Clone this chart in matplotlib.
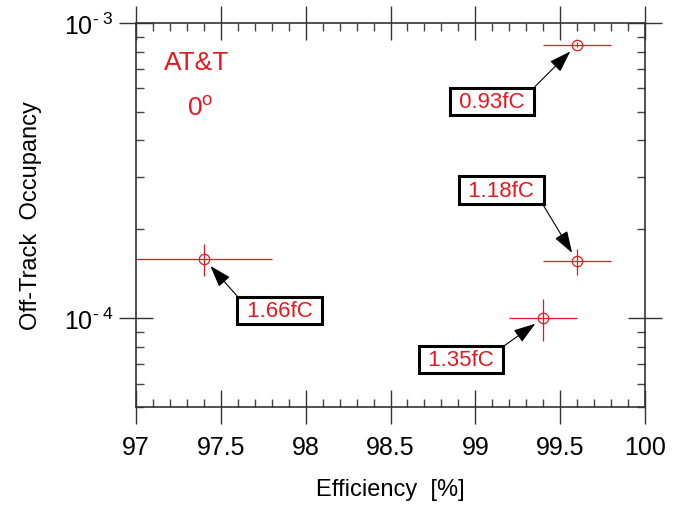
import math
import matplotlib
matplotlib.use("Agg")
import matplotlib.pyplot as plt
import matplotlib.ticker as ticker

plt.rcParams['font.family'] = ['Liberation Sans', 'DejaVu Sans']
plt.rcParams['mathtext.fontset'] = 'custom'
plt.rcParams['mathtext.rm'] = 'Liberation Sans'
plt.rcParams['mathtext.it'] = 'Liberation Sans:italic'

# data
efficiency = [99.6, 99.6, 99.4, 97.4]
eff_err = [0.2, 0.2, 0.2, 0.4]
occupancy = [8.45e-4, 1.56e-4, 1.0e-4, 1.59e-4]
occ_err = [0.15e-4, 0.16e-4, 0.16e-4, 0.20e-4]
thresholds = ['0.93fC', '1.18fC', '1.35fC', '1.66fC']
# label box positions (data coords) and arrow anchor on the box
label_pos = [(99.098, 5.43e-4), (99.154, 2.716e-4), (98.915, 7.25e-5), (97.846, 1.062e-4)]
label_relpos = [(1, 1), (1, 0), (1, 1), (0, 1)]

red = '#e3191f'

fig = plt.figure(figsize=(6.73, 5.10), dpi=100)
ax = fig.add_axes([0.2021, 0.2, 0.7563, 0.7529])

ax.errorbar(efficiency, occupancy, xerr=eff_err, yerr=occ_err, fmt='o',
            mfc='none', mec=red, ms=7.5, mew=0.9, ecolor=red, elinewidth=0.9,
            capsize=0, color=red)

for lab, pos, rp, x, y in zip(thresholds, label_pos, label_relpos, efficiency, occupancy):
    ax.annotate(' ' + lab + ' ', xy=(x, y), xytext=pos, ha='center', va='center',
                fontsize=16, color=red,
                bbox=dict(boxstyle='square,pad=0.14', fc='white', ec='black', lw=2.2),
                arrowprops=dict(arrowstyle='-|>,head_length=0.9,head_width=0.3',
                                mutation_scale=15, color='black', lw=0.8,
                                shrinkA=0, shrinkB=7, relpos=rp))

ax.text(0.120, 0.880, 'AT&T', transform=ax.transAxes, ha='center', va='baseline',
        fontsize=19, color=red)
ax.text(0.126, 0.760, r'0$^{\mathregular{o}}$', transform=ax.transAxes, ha='center',
        va='baseline', fontsize=19, color=red)

ax.set_yscale('log')
ax.set_xlim(97, 100)
ax.set_ylim(5e-5, 1e-3)

ax.xaxis.set_major_locator(ticker.MultipleLocator(0.5))
ax.xaxis.set_minor_locator(ticker.MultipleLocator(0.1))
ax.xaxis.set_major_formatter(ticker.FuncFormatter(lambda v, p: f'{v:g}'))
ax.yaxis.set_major_locator(ticker.LogLocator(base=10))
ax.yaxis.set_minor_locator(ticker.LogLocator(base=10, subs=range(2, 10)))
ax.yaxis.set_major_formatter(ticker.FuncFormatter(
    lambda v, p: r'$\mathregular{10^{\text{- }%d}}$' % abs(round(math.log10(v)))))
ax.yaxis.set_minor_formatter(ticker.NullFormatter())

ax.tick_params(which='major', direction='inout', length=24, width=1.0,
               top=True, right=True, labelsize=18, color='#333333')
ax.tick_params(axis='x', which='major', pad=8)
ax.tick_params(axis='y', which='major', pad=4)
ax.tick_params(which='minor', direction='in', length=6, width=1.0,
               top=True, right=True, color='#444444')
for s in ax.spines.values():
    s.set_linewidth(1.2)
    s.set_color('#333333')

ax.set_xlabel('Efficiency  [%]', fontsize=17, labelpad=14)
ax.set_ylabel('Off-Track  Occupancy', fontsize=17, labelpad=16)

fig.savefig('out.png', dpi=100)
